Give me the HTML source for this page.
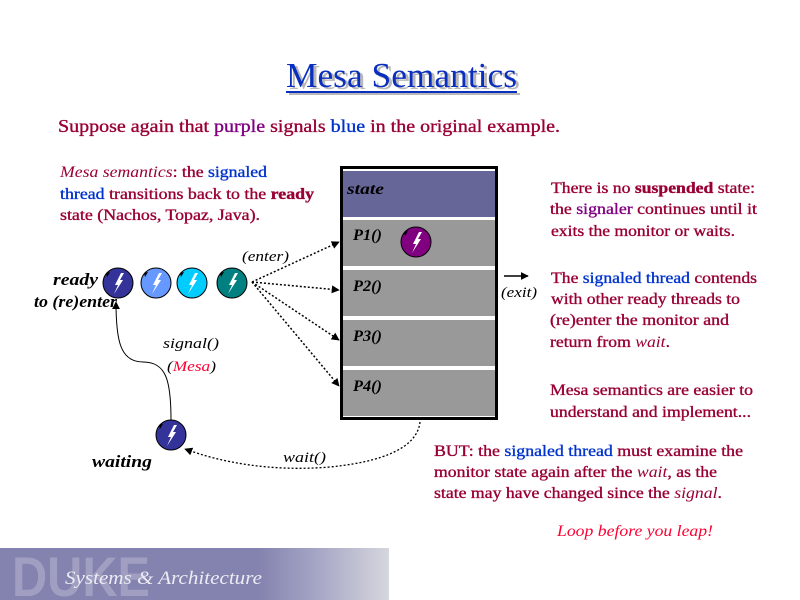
<!DOCTYPE html>
<html><head><meta charset="utf-8"><style>
html,body{margin:0;padding:0;background:#fff;}
svg{display:block;}
.s{font-family:"Liberation Serif",serif;}
.h{stroke-width:0.35;}
</style></head><body>
<svg width="800" height="600" viewBox="0 0 800 600" xmlns="http://www.w3.org/2000/svg">
<defs>
<linearGradient id="bg" x1="0" x2="1" y1="0" y2="0">
<stop offset="0" stop-color="#8482ae"/>
<stop offset="0.66" stop-color="#8482ae"/>
<stop offset="0.8" stop-color="#a2a2c4"/>
<stop offset="1" stop-color="#d6d6de"/>
</linearGradient>
<g id="bolt"><polygon points="3,-10 -3,2 0,2 -4,11 5,-3 2,-3 6,-10" fill="#fff"/></g>
<g id="mark"><polygon points="-12,-10 -8,-11 -11,-6" fill="#000"/></g>
<marker id="ah" viewBox="0 0 10 10" refX="9" refY="5" markerWidth="8" markerHeight="8" orient="auto" markerUnits="userSpaceOnUse"><path d="M0,0 L10,5 L0,10 z" fill="#000"/></marker>
</defs>

<!-- Title -->
<g class="s" font-size="35">
<text x="289" y="89" fill="#b8b8b8" textLength="231" lengthAdjust="spacingAndGlyphs">Mesa Semantics</text>
<rect x="289" y="93" width="231" height="2" fill="#b8b8b8"/>
<text x="286" y="87" fill="#0a2fbf" textLength="231" lengthAdjust="spacingAndGlyphs">Mesa Semantics</text>
<rect x="286" y="91" width="231" height="2" fill="#0a2fbf"/>
</g>

<!-- Subtitle -->
<text class="s h" x="58" y="132" font-size="18" fill="#990033" stroke="#990033" textLength="502" lengthAdjust="spacingAndGlyphs">Suppose again that <tspan fill="#800080" stroke="#800080">purple</tspan> signals <tspan fill="#0033cc" stroke="#0033cc">blue</tspan> in the original example.</text>

<!-- Left paragraph -->
<g class="s h" font-size="16" fill="#990033" stroke="#990033">
<text x="60" y="177" textLength="207" lengthAdjust="spacingAndGlyphs"><tspan font-style="italic" stroke="none">Mesa semantics</tspan>: the <tspan fill="#0033cc" stroke="#0033cc">signaled</tspan></text>
<text x="60" y="199" textLength="254" lengthAdjust="spacingAndGlyphs"><tspan fill="#0033cc" stroke="#0033cc">thread</tspan> transitions back to the <tspan font-weight="bold">ready</tspan></text>
<text x="60" y="220" textLength="200" lengthAdjust="spacingAndGlyphs">state (Nachos, Topaz, Java).</text>
</g>

<!-- Right paragraphs -->
<g class="s h" font-size="16" fill="#990033" stroke="#990033">
<text x="551" y="193" textLength="204" lengthAdjust="spacingAndGlyphs">There is no <tspan font-weight="bold">suspended</tspan> state:</text>
<text x="550" y="214" textLength="207" lengthAdjust="spacingAndGlyphs">the <tspan fill="#800080" stroke="#800080">signaler</tspan> continues until it</text>
<text x="551" y="236" textLength="184" lengthAdjust="spacingAndGlyphs">exits the monitor or waits.</text>
<text x="551" y="283" textLength="206" lengthAdjust="spacingAndGlyphs">The <tspan fill="#0033cc" stroke="#0033cc">signaled thread</tspan> contends</text>
<text x="551" y="304" textLength="189" lengthAdjust="spacingAndGlyphs">with other ready threads to</text>
<text x="550" y="325" textLength="179" lengthAdjust="spacingAndGlyphs">(re)enter the monitor and</text>
<text x="550" y="347" textLength="120" lengthAdjust="spacingAndGlyphs">return from <tspan font-style="italic" stroke="none">wait</tspan>.</text>
<text x="550" y="395" textLength="203" lengthAdjust="spacingAndGlyphs">Mesa semantics are easier to</text>
<text x="550" y="417" textLength="201" lengthAdjust="spacingAndGlyphs">understand and implement...</text>
<text x="434" y="456" textLength="309" lengthAdjust="spacingAndGlyphs">BUT: the <tspan fill="#0033cc" stroke="#0033cc">signaled thread</tspan> must examine the</text>
<text x="434" y="477" textLength="283" lengthAdjust="spacingAndGlyphs">monitor state again after the <tspan font-style="italic" stroke="none">wait</tspan>, as the</text>
<text x="434" y="498" textLength="288" lengthAdjust="spacingAndGlyphs">state may have changed since the <tspan font-style="italic" stroke="none">signal</tspan>.</text>
<text x="557" y="536" font-style="italic" fill="#ff0033" stroke="none" textLength="156" lengthAdjust="spacingAndGlyphs">Loop before you leap!</text>
</g>

<!-- Monitor box -->
<rect x="341.5" y="167.5" width="155" height="251" fill="#fff" stroke="#000" stroke-width="3"/>
<rect x="343" y="171" width="152" height="46" fill="#666699"/>
<rect x="343" y="220" width="152" height="46" fill="#999999"/>
<rect x="343" y="270" width="152" height="46" fill="#999999"/>
<rect x="343" y="320" width="152" height="46" fill="#999999"/>
<rect x="343" y="370" width="152" height="46" fill="#999999"/>
<g class="s" font-size="16" font-weight="bold" font-style="italic" fill="#000">
<text x="347" y="194" textLength="37" lengthAdjust="spacingAndGlyphs">state</text>
<text x="353" y="240" textLength="29" lengthAdjust="spacingAndGlyphs">P1()</text>
<text x="353" y="291" textLength="29" lengthAdjust="spacingAndGlyphs">P2()</text>
<text x="353" y="341" textLength="29" lengthAdjust="spacingAndGlyphs">P3()</text>
<text x="353" y="391" textLength="29" lengthAdjust="spacingAndGlyphs">P4()</text>
</g>
<!-- purple thread -->
<circle cx="416" cy="242" r="15" fill="#800080" stroke="#000" stroke-width="1"/>
<use href="#bolt" x="416" y="242"/>
<use href="#mark" x="416" y="242"/>

<!-- exit -->
<line x1="504" y1="276" x2="528" y2="276" stroke="#000" stroke-width="1.5" marker-end="url(#ah)"/>
<text class="s" x="501" y="297" font-size="15" font-style="italic" fill="#000" textLength="36" lengthAdjust="spacingAndGlyphs">(exit)</text>

<!-- ready threads -->
<circle cx="118" cy="283" r="15" fill="#333399" stroke="#000"/>
<circle cx="156" cy="283" r="15" fill="#6699ff" stroke="#000"/>
<circle cx="192" cy="283" r="15" fill="#00ccff" stroke="#000"/>
<circle cx="232" cy="283" r="15" fill="#008080" stroke="#000"/>
<use href="#bolt" x="118" y="283"/><use href="#mark" x="118" y="283"/>
<use href="#bolt" x="156" y="283"/><use href="#mark" x="156" y="283"/>
<use href="#bolt" x="192" y="283"/><use href="#mark" x="192" y="283"/>
<use href="#bolt" x="232" y="283"/><use href="#mark" x="232" y="283"/>

<g class="s" font-weight="bold" font-style="italic" font-size="17" fill="#000">
<text x="53" y="285" textLength="45" lengthAdjust="spacingAndGlyphs">ready</text>
<text x="34" y="307" textLength="83" lengthAdjust="spacingAndGlyphs">to (re)enter</text>
<text x="92" y="467" textLength="60" lengthAdjust="spacingAndGlyphs">waiting</text>
</g>

<!-- enter arrows -->
<g stroke="#000" stroke-width="1.5" stroke-dasharray="2,2" fill="none">
<line x1="252" y1="282" x2="339" y2="242" marker-end="url(#ah)"/>
<line x1="252" y1="282" x2="339" y2="290" marker-end="url(#ah)"/>
<line x1="252" y1="282" x2="339" y2="340" marker-end="url(#ah)"/>
<line x1="252" y1="282" x2="339" y2="386" marker-end="url(#ah)"/>
</g>
<text class="s" x="242" y="261" font-size="15" font-style="italic" fill="#000" textLength="47" lengthAdjust="spacingAndGlyphs">(enter)</text>

<!-- waiting thread -->
<circle cx="171" cy="435" r="15" fill="#333399" stroke="#000"/>
<use href="#bolt" x="171" y="435"/><use href="#mark" x="171" y="435"/>

<!-- signal curve -->
<path d="M171,420 C171,380 166,362 143,362 C120,362 116,340 116,302" fill="none" stroke="#000" stroke-width="1" marker-end="url(#ah)"/>
<text class="s" x="163" y="348" font-size="15" font-style="italic" fill="#000" textLength="56" lengthAdjust="spacingAndGlyphs">signal()</text>
<text class="s" x="167" y="371" font-size="15" font-style="italic" fill="#000" textLength="49" lengthAdjust="spacingAndGlyphs">(<tspan fill="#ff0033">Mesa</tspan>)</text>

<!-- wait curve -->
<path d="M420,422 C418,440 400,460 330,467 C270,472 220,462 185,449" fill="none" stroke="#000" stroke-width="1.3" stroke-dasharray="2,2" marker-end="url(#ah)"/>
<text class="s" x="283" y="462" font-size="15" font-style="italic" fill="#000" textLength="43" lengthAdjust="spacingAndGlyphs">wait()</text>

<!-- bottom banner -->
<rect x="0" y="548" width="389" height="52" fill="url(#bg)"/>
<text x="12" y="596" font-family="Liberation Sans, sans-serif" font-weight="bold" font-size="56" fill="#a09fc2" textLength="138" lengthAdjust="spacingAndGlyphs">DUKE</text>
<text class="s" x="65" y="584" font-size="19" font-style="italic" fill="#ececf4" textLength="197" lengthAdjust="spacingAndGlyphs">Systems &amp; Architecture</text>
</svg>
</body></html>
